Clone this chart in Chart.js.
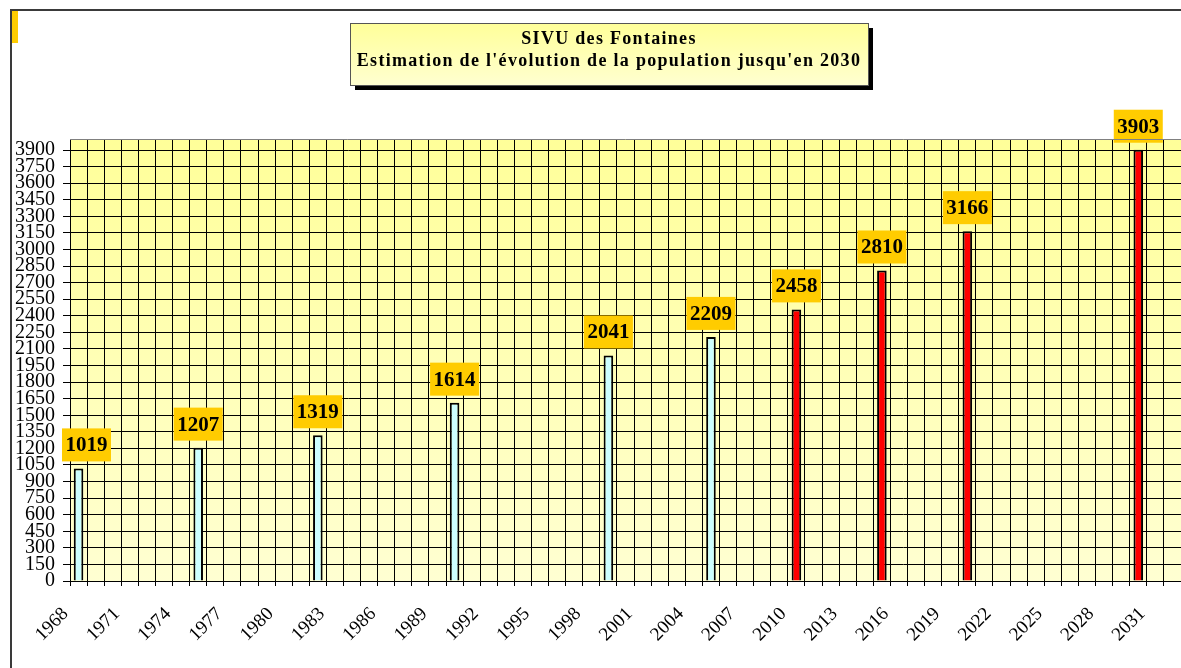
<!DOCTYPE html>
<html><head><meta charset="utf-8">
<script src="https://cdn.jsdelivr.net/npm/chart.js@4/dist/chart.umd.min.js"></script>
<style>html,body{margin:0;padding:0;background:#fff;overflow:hidden}#wrap{position:relative;width:1181px;height:668px}</style>
</head><body><div id="wrap"><canvas id="c" width="1181" height="668"></canvas></div>
<script>
const categories = ['1968','1969','1970','1971','1972','1973','1974','1975','1976','1977','1978','1979','1980','1981','1982','1983','1984','1985','1986','1987','1988','1989','1990','1991','1992','1993','1994','1995','1996','1997','1998','1999','2000','2001','2002','2003','2004','2005','2006','2007','2008','2009','2010','2011','2012','2013','2014','2015','2016','2017','2018','2019','2020','2021','2022','2023','2024','2025','2026','2027','2028','2029','2030','2031','2032'];
const xTickLabels = ['1968','1971','1974','1977','1980','1983','1986','1989','1992','1995','1998','2001','2004','2007','2010','2013','2016','2019','2022','2025','2028','2031'];
const yTickValues = [0,150,300,450,600,750,900,1050,1200,1350,1500,1650,1800,1950,2100,2250,2400,2550,2700,2850,3000,3150,3300,3450,3600,3750,3900];
const censusYears = ['1968','1975','1982','1990','1999','2005'];
const censusPopulation = [1019,1207,1319,1614,2041,2209];
const projectionYears = ['2010','2015','2020','2030'];
const projectionPopulation = [2458,2810,3166,3903];
const titleLines = ['SIVU des Fontaines', "Estimation de l'évolution de la population jusqu'en 2030"];

const SERIF = '"Liberation Serif","Times New Roman",serif';

const bgPlugin = {
  id: 'bg',
  beforeDraw(chart) {
    const {ctx, chartArea: a} = chart;
    ctx.save();
    ctx.strokeStyle = '#3a3a3a'; ctx.lineWidth = 2;
    ctx.beginPath(); ctx.moveTo(11, 668); ctx.lineTo(11, 10); ctx.lineTo(1181, 10); ctx.stroke();
    ctx.fillStyle = '#FFCC00'; ctx.fillRect(12, 11, 6, 32);
    const g = ctx.createLinearGradient(0, a.top, 0, a.bottom);
    g.addColorStop(0, '#FFFF99'); g.addColorStop(1, '#FFFFD2');
    ctx.fillStyle = g; ctx.fillRect(a.left, a.top, a.right - a.left, a.bottom - a.top);
    const bx = 350, by = 23, bw = 518, bh = 62;
    ctx.fillStyle = '#000'; ctx.fillRect(bx + 5, by + 5, bw, bh);
    const tg = ctx.createLinearGradient(0, by, 0, by + bh);
    tg.addColorStop(0, '#FFFF99'); tg.addColorStop(1, '#FFFFD0');
    ctx.fillStyle = tg; ctx.fillRect(bx, by, bw, bh);
    ctx.strokeStyle = '#555'; ctx.lineWidth = 1; ctx.strokeRect(bx + 0.5, by + 0.5, bw, bh);
    ctx.fillStyle = '#000'; ctx.font = 'bold 18px ' + SERIF; ctx.textAlign = 'center'; ctx.textBaseline = 'alphabetic';
    if ('letterSpacing' in ctx) ctx.letterSpacing = '1.3px';
    ctx.fillText(titleLines[0], bx + bw / 2, 44);
    ctx.fillText(titleLines[1], bx + bw / 2, 66);
    if ('letterSpacing' in ctx) ctx.letterSpacing = '0px';
    ctx.restore();
  },
  afterDraw(chart) {
    const {ctx, chartArea: a} = chart;
    ctx.save();
    ctx.strokeStyle = '#808080'; ctx.lineWidth = 1;
    ctx.beginPath(); ctx.moveTo(a.left, a.top + 0.5); ctx.lineTo(a.right, a.top + 0.5); ctx.stroke();
    ctx.restore();
  }
};

const labelPlugin = {
  id: 'vlabels',
  afterDatasetsDraw(chart) {
    const {ctx, chartArea: a} = chart;
    ctx.save();
    ctx.font = 'bold 21px ' + SERIF; ctx.textAlign = 'center'; ctx.textBaseline = 'middle';
    chart.data.datasets.forEach((ds, di) => {
      const meta = chart.getDatasetMeta(di);
      meta.data.forEach((el, i) => {
        const v = ds.data[i].y;
        const w = 49, h = 33;
        let left = el.x - w / 2;
        if (left < a.left - 8) left = a.left - 8;
        const top = el.y - 7 - h;
        ctx.fillStyle = '#FFCC00'; ctx.fillRect(left, top, w, h);
        ctx.fillStyle = '#000'; ctx.fillText(String(v), left + w / 2, top + h / 2 + 1);
      });
    });
    ctx.restore();
  }
};

const mk = (years, vals) => years.map((y, i) => ({x: y, y: vals[i]}));

new Chart(document.getElementById('c'), {
  type: 'bar',
  data: {
    labels: categories,
    datasets: [
      {label: 'Recensements', data: mk(censusYears, censusPopulation), backgroundColor: '#CCFFFF', borderColor: '#000', borderWidth: 2, grouped: false, barPercentage: 0.56, categoryPercentage: 1},
      {label: 'Projections', data: mk(projectionYears, projectionPopulation), backgroundColor: '#FF0000', borderColor: '#000', borderWidth: 2, grouped: false, barPercentage: 0.56, categoryPercentage: 1}
    ]
  },
  options: {
    responsive: false, animation: false,
    layout: {padding: {left: 0, top: 139, right: 0, bottom: 0}},
    plugins: {legend: {display: false}, tooltip: {enabled: false}, title: {display: false}},
    scales: {
      x: {
        grid: {color: '#000', lineWidth: 1, offset: true, tickLength: 5, drawTicks: true},
        border: {color: '#000', width: 1},
        ticks: {
          autoSkip: false, maxRotation: 45, minRotation: 45, padding: 17, labelOffset: -13,
          color: '#000', font: {family: SERIF, size: 19},
          callback: (v, i) => xTickLabels.includes(categories[i]) ? categories[i] : ''
        },
        afterFit(s) { s.height = 87; s.paddingLeft = 0; s.paddingRight = 0; }
      },
      y: {
        min: 0, max: 4000,
        grid: {color: '#000', lineWidth: 1, tickLength: 7},
        border: {color: '#000', width: 1},
        ticks: {autoSkip: false, padding: 8, color: '#000', font: {family: SERIF, size: 20, lineHeight: 1}, callback: v => String(v)},
        afterBuildTicks(s) { s.ticks = yTickValues.map(v => ({value: v})); },
        afterFit(s) { s.width = 70; }
      }
    }
  },
  plugins: [bgPlugin, labelPlugin]
});
</script></body></html>
